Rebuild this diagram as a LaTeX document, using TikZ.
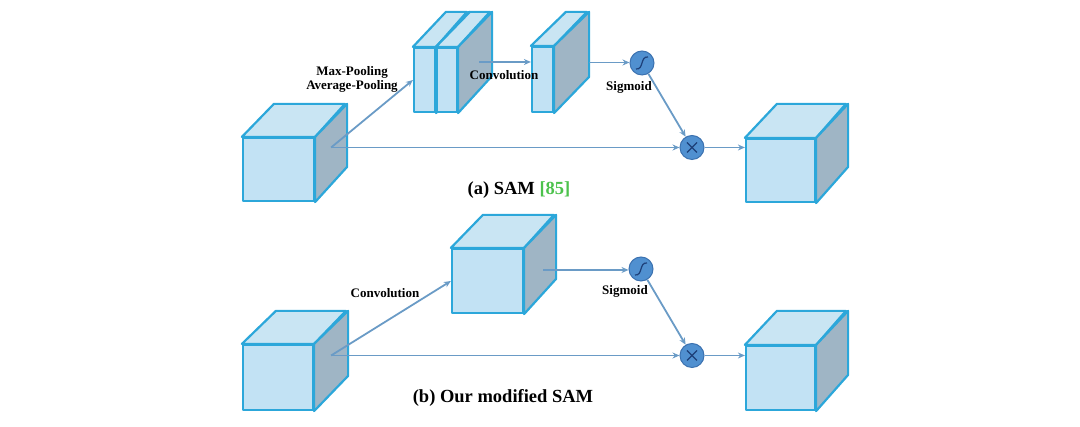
\documentclass[tikz,border=0pt]{standalone}
\usepackage{fontspec}
\setmainfont{Liberation Serif}
\usetikzlibrary{arrows.meta,calc}

\definecolor{facec}{HTML}{C2E2F4}
\definecolor{topc}{HTML}{C9E5F3}
\definecolor{sidec}{HTML}{9FB5C5}
\definecolor{edgec}{HTML}{2CA7DA}
\definecolor{flowc}{HTML}{6A9BC6}
\definecolor{gatec}{HTML}{5090D0}
\definecolor{gatedc}{HTML}{3C72B0}
\definecolor{symc}{HTML}{1D3F78}
\definecolor{refc}{HTML}{4CC24C}

\tikzset{
  front/.style={draw=edgec, fill=facec, line width=2.2pt, line join=round, inner sep=0pt},
  face/.style={draw=edgec, line width=2.2pt, line join=round},
  flow/.style={draw=flowc, line width=1.8pt, -{Stealth[length=7pt,width=6pt]}},
  gate/.style={circle, draw=gatedc, fill=gatec, line width=1pt, minimum size=24pt, inner sep=0pt},
  lab/.style={font=\bfseries\fontsize{13}{14.5}\selectfont, align=center},
  captext/.style={font=\bfseries\fontsize{18.5}{20}\selectfont},
}

% name, centre of front face, width, height, depth x, depth y
\newcommand{\drawcube}[6]{%
  \node[front, minimum width=#3, minimum height=#4] (#1) at (#2) {};
  \draw[face, fill=topc] (#1.north west) -- ++(#5,#6) -- ++(#3,0) -- (#1.north east) -- cycle;
  \draw[face, fill=sidec] (#1.north east) -- ++(#5,#6) -- ++(0,-#4) -- (#1.south east) -- cycle;
}

\begin{document}
\begin{tikzpicture}[x=1pt,y=1pt]
	\useasboundingbox (0,0) rectangle (1080,427);

	% (a) SAM
	\drawcube{inA}{278.5,257.5}{71}{63}{32}{33}
	\drawcube{s1A}{424.5,347}{21}{64}{33}{35}
	\drawcube{s2A}{447,347}{20}{64}{34}{35}
	\drawcube{cvA}{542.5,347.5}{21}{65}{35}{34}
	\drawcube{outA}{780.5,256.5}{69}{63}{32}{34}
	\node[gate] (sigA) at (642,364) {};
	\node[gate] (mulA) at (692,279.5) {};

	\coordinate (inAr) at ($(inA.east)+(16,22)$);
	\coordinate (s2Ar) at ($(s2A.east)+(21,18)$);
	\coordinate (cvAr) at ($(cvA.east)+(35,17)$);

	\draw[flow] (inAr) -- (s1A.west);
	\draw[flow] (inAr) -- (inAr -| mulA.west);
	\draw[flow] (s2Ar) -- (s2Ar -| cvA.west);
	\draw[flow] (cvAr) -- (cvAr -| sigA.west);
	\draw[flow] (sigA) -- (mulA);
	\draw[flow] (mulA) -- (mulA -| outA.west);

	% (b) modified SAM
	\drawcube{inB}{278,49.5}{70}{65}{34}{33}
	\drawcube{mdB}{487.5,146}{71}{64}{32}{33}
	\drawcube{outB}{780.5,49}{69}{64}{32}{34}
	\node[gate] (sigB) at (641,158) {};
	\node[gate] (mulB) at (692,71.5) {};

	\coordinate (inBr) at ($(inB.east)+(17,22)$);
	\coordinate (mdBr) at ($(mdB.east)+(19,11)$);

	\draw[flow] (inBr) -- (mdB.west);
	\draw[flow] (inBr) -- (inBr -| mulB.west);
	\draw[flow] (mdBr) -- (mdBr -| sigB.west);
	\draw[flow] (sigB) -- (mulB);
	\draw[flow] (mulB) -- (mulB -| outB.west);

	% gate symbols
	\foreach \g in {sigA,sigB}
		\draw[symc, line width=1.2pt] ($(\g)+(-6,-6)$) .. controls ($(\g)+(2,-7)$) and ($(\g)+(-2,7)$) .. ($(\g)+(6,6)$);
	\foreach \g in {mulA,mulB}
		\draw[symc, line width=1.2pt] ($(\g)+(-5,-5)$) -- ($(\g)+(5,5)$) ($(\g)+(-5,5)$) -- ($(\g)+(5,-5)$);

	% labels
	\node[lab] (poolA) at (352,347.5) {Max-Pooling\\Average-Pooling};
	\node[lab] (convA) at (504,352) {Convolution};
	\node[lab] (sgA) at (629,340) {Sigmoid};
	\node[captext] (capA) at (519,237) {(a) SAM \textcolor{refc}{[85]}};

	\node[lab] (convB) at (385,134) {Convolution};
	\node[lab] (sgB) at (625,136) {Sigmoid};
	\node[captext] (capB) at (503,29) {(b) Our modified SAM};
\end{tikzpicture}
\end{document}
